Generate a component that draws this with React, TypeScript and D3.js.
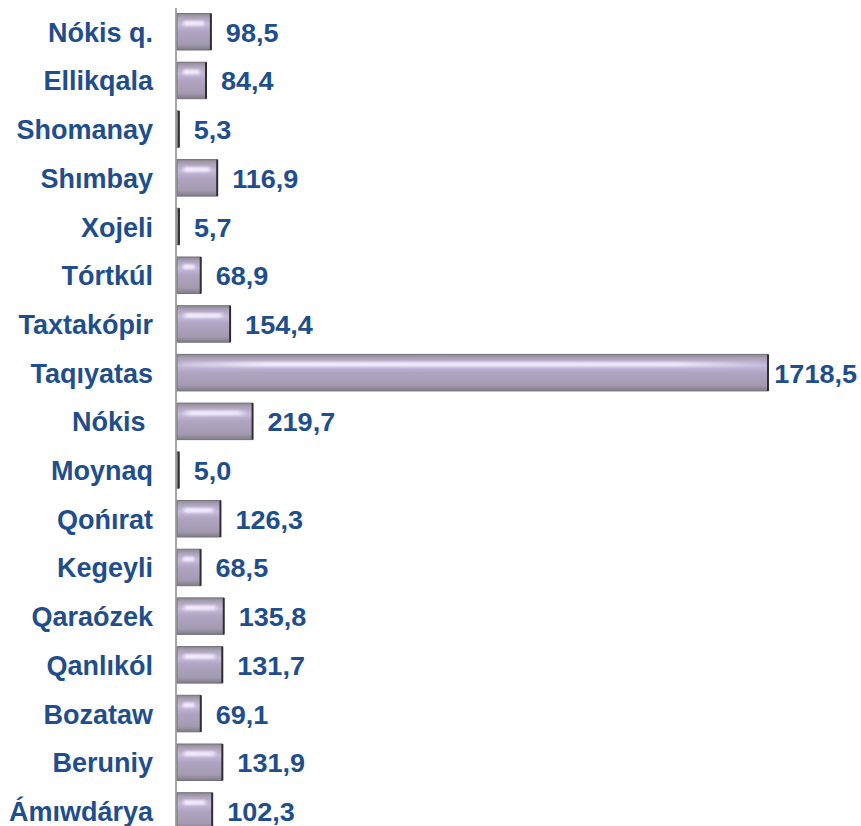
import React, { useEffect, useRef } from "react";
import * as d3 from "d3";

const districts = [
  "Nókis q.", "Ellikqala", "Shomanay", "Shımbay", "Xojeli", "Tórtkúl",
  "Taxtakópir", "Taqıyatas", "Nókis ", "Moynaq", "Qońırat", "Kegeyli",
  "Qaraózek", "Qanlıkól", "Bozataw", "Beruniy", "Ámıwdárya",
];
const values = [
  98.5, 84.4, 5.3, 116.9, 5.7, 68.9, 154.4, 1718.5, 219.7, 5.0,
  126.3, 68.5, 135.8, 131.7, 69.1, 131.9, 102.3,
];
const valueLabels = [
  "98,5", "84,4", "5,3", "116,9", "5,7", "68,9", "154,4", "1718,5", "219,7", "5,0",
  "126,3", "68,5", "135,8", "131,7", "69,1", "131,9", "102,3",
];

const W = 861;
const H = 826;

const App = () => {
  const svgRef = useRef<SVGSVGElement>(null);

  useEffect(() => {
    const svg = d3.select(svgRef.current);
    svg.selectAll("*").remove();

    const rows = districts.map((d, i) => ({ name: d, value: values[i], label: valueLabels[i] }));
    const x0 = 177;

    const x = d3.scaleLinear().domain([0, 1718.5]).range([x0, 768]);
    const y = d3.scaleBand()
      .domain(districts)
      .range([7.4, 7.4 + 17 * 48.7])
      .paddingInner(0.25)
      .paddingOuter(0.125);

    const defs = svg.append("defs");
    const grad = defs.append("linearGradient")
      .attr("id", "bar-fill")
      .attr("x1", "0%").attr("y1", "0%")
      .attr("x2", "0%").attr("y2", "100%");
    [
      [0, "#8c8890"], [0.1, "#aaa0b6"], [0.3, "#c6badb"], [0.5, "#b0a4c2"],
      [0.85, "#a39aaf"], [1, "#7f7b84"],
    ].forEach(([o, c]) => grad.append("stop").attr("offset", o as number).attr("stop-color", c as string));

    const hl = defs.append("linearGradient")
      .attr("id", "bar-hl")
      .attr("x1", "0%").attr("y1", "0%")
      .attr("x2", "100%").attr("y2", "0%");
    hl.append("stop").attr("offset", 0).attr("stop-color", "#f6efff").attr("stop-opacity", 0.2);
    hl.append("stop").attr("offset", 0.15).attr("stop-color", "#f6efff").attr("stop-opacity", 0.95);
    hl.append("stop").attr("offset", 0.85).attr("stop-color", "#f6efff").attr("stop-opacity", 0.85);
    hl.append("stop").attr("offset", 1).attr("stop-color", "#f6efff").attr("stop-opacity", 0.05);

    defs.append("filter")
      .attr("id", "soft")
      .attr("x", "-20%").attr("y", "-100%")
      .attr("width", "140%").attr("height", "300%")
      .append("feGaussianBlur")
      .attr("stdDeviation", 1.2);

    const bars = svg.append("g").selectAll("g.bar")
      .data(rows)
      .enter().append("g")
      .attr("class", "bar");

    bars.append("rect")
      .attr("x", x0)
      .attr("y", d => y(d.name)!)
      .attr("width", d => Math.max(1.5, x(d.value) - x0))
      .attr("height", y.bandwidth())
      .attr("fill", "url(#bar-fill)")
      .attr("stroke", "#76727a")
      .attr("stroke-width", 1);

    bars.filter(d => x(d.value) - x0 > 12)
      .append("rect")
      .attr("x", x0 + 5)
      .attr("y", d => y(d.name)! + y.bandwidth() * 0.2)
      .attr("width", d => x(d.value) - x0 - 10)
      .attr("height", 5)
      .attr("rx", 2.5)
      .attr("fill", "url(#bar-hl)")
      .attr("filter", "url(#soft)");

    // dark right edge
    bars.append("line")
      .attr("x1", d => x(d.value))
      .attr("x2", d => x(d.value))
      .attr("y1", d => y(d.name)!)
      .attr("y2", d => y(d.name)! + y.bandwidth())
      .attr("stroke", "#2f2f33")
      .attr("stroke-width", 2);

    // axis line
    svg.append("line")
      .attr("x1", 176).attr("x2", 176)
      .attr("y1", 8).attr("y2", H)
      .attr("stroke", "#8a8a8a")
      .attr("stroke-width", 1.5);

    const font = "'Liberation Sans', Arial, sans-serif";
    const blue = "#1f4e8c";

    svg.append("g").selectAll("text")
      .data(rows)
      .enter().append("text")
      .attr("x", 153)
      .attr("y", d => y(d.name)! + y.bandwidth() / 2 + 10)
      .attr("text-anchor", "end")
      .attr("font-family", font)
      .attr("font-weight", "bold")
      .attr("font-size", "27px")
      .attr("fill", blue)
      .style("white-space", "pre")
      .text(d => d.name);

    const over = (v: number) => x(v) + 15 + 90 > W;
    svg.append("g").selectAll("text")
      .data(rows)
      .enter().append("text")
      .attr("transform", d => {
        const tx = over(d.value) ? W - 4 : x(d.value) + 15;
        const ty = y(d.name)! + y.bandwidth() / 2 + 10;
        return `translate(${tx},${ty}) scale(1.04,1)`;
      })
      .attr("text-anchor", d => (over(d.value) ? "end" : "start"))
      .attr("font-family", font)
      .attr("font-weight", "bold")
      .attr("font-size", "26px")
      .attr("fill", blue)
      .text(d => d.label);
  }, []);

  return (
    <svg
      ref={svgRef}
      width={W}
      height={H}
      style={{ position: "absolute", left: 0, top: 0, background: "#fff" }}
    />
  );
};

export default App;
